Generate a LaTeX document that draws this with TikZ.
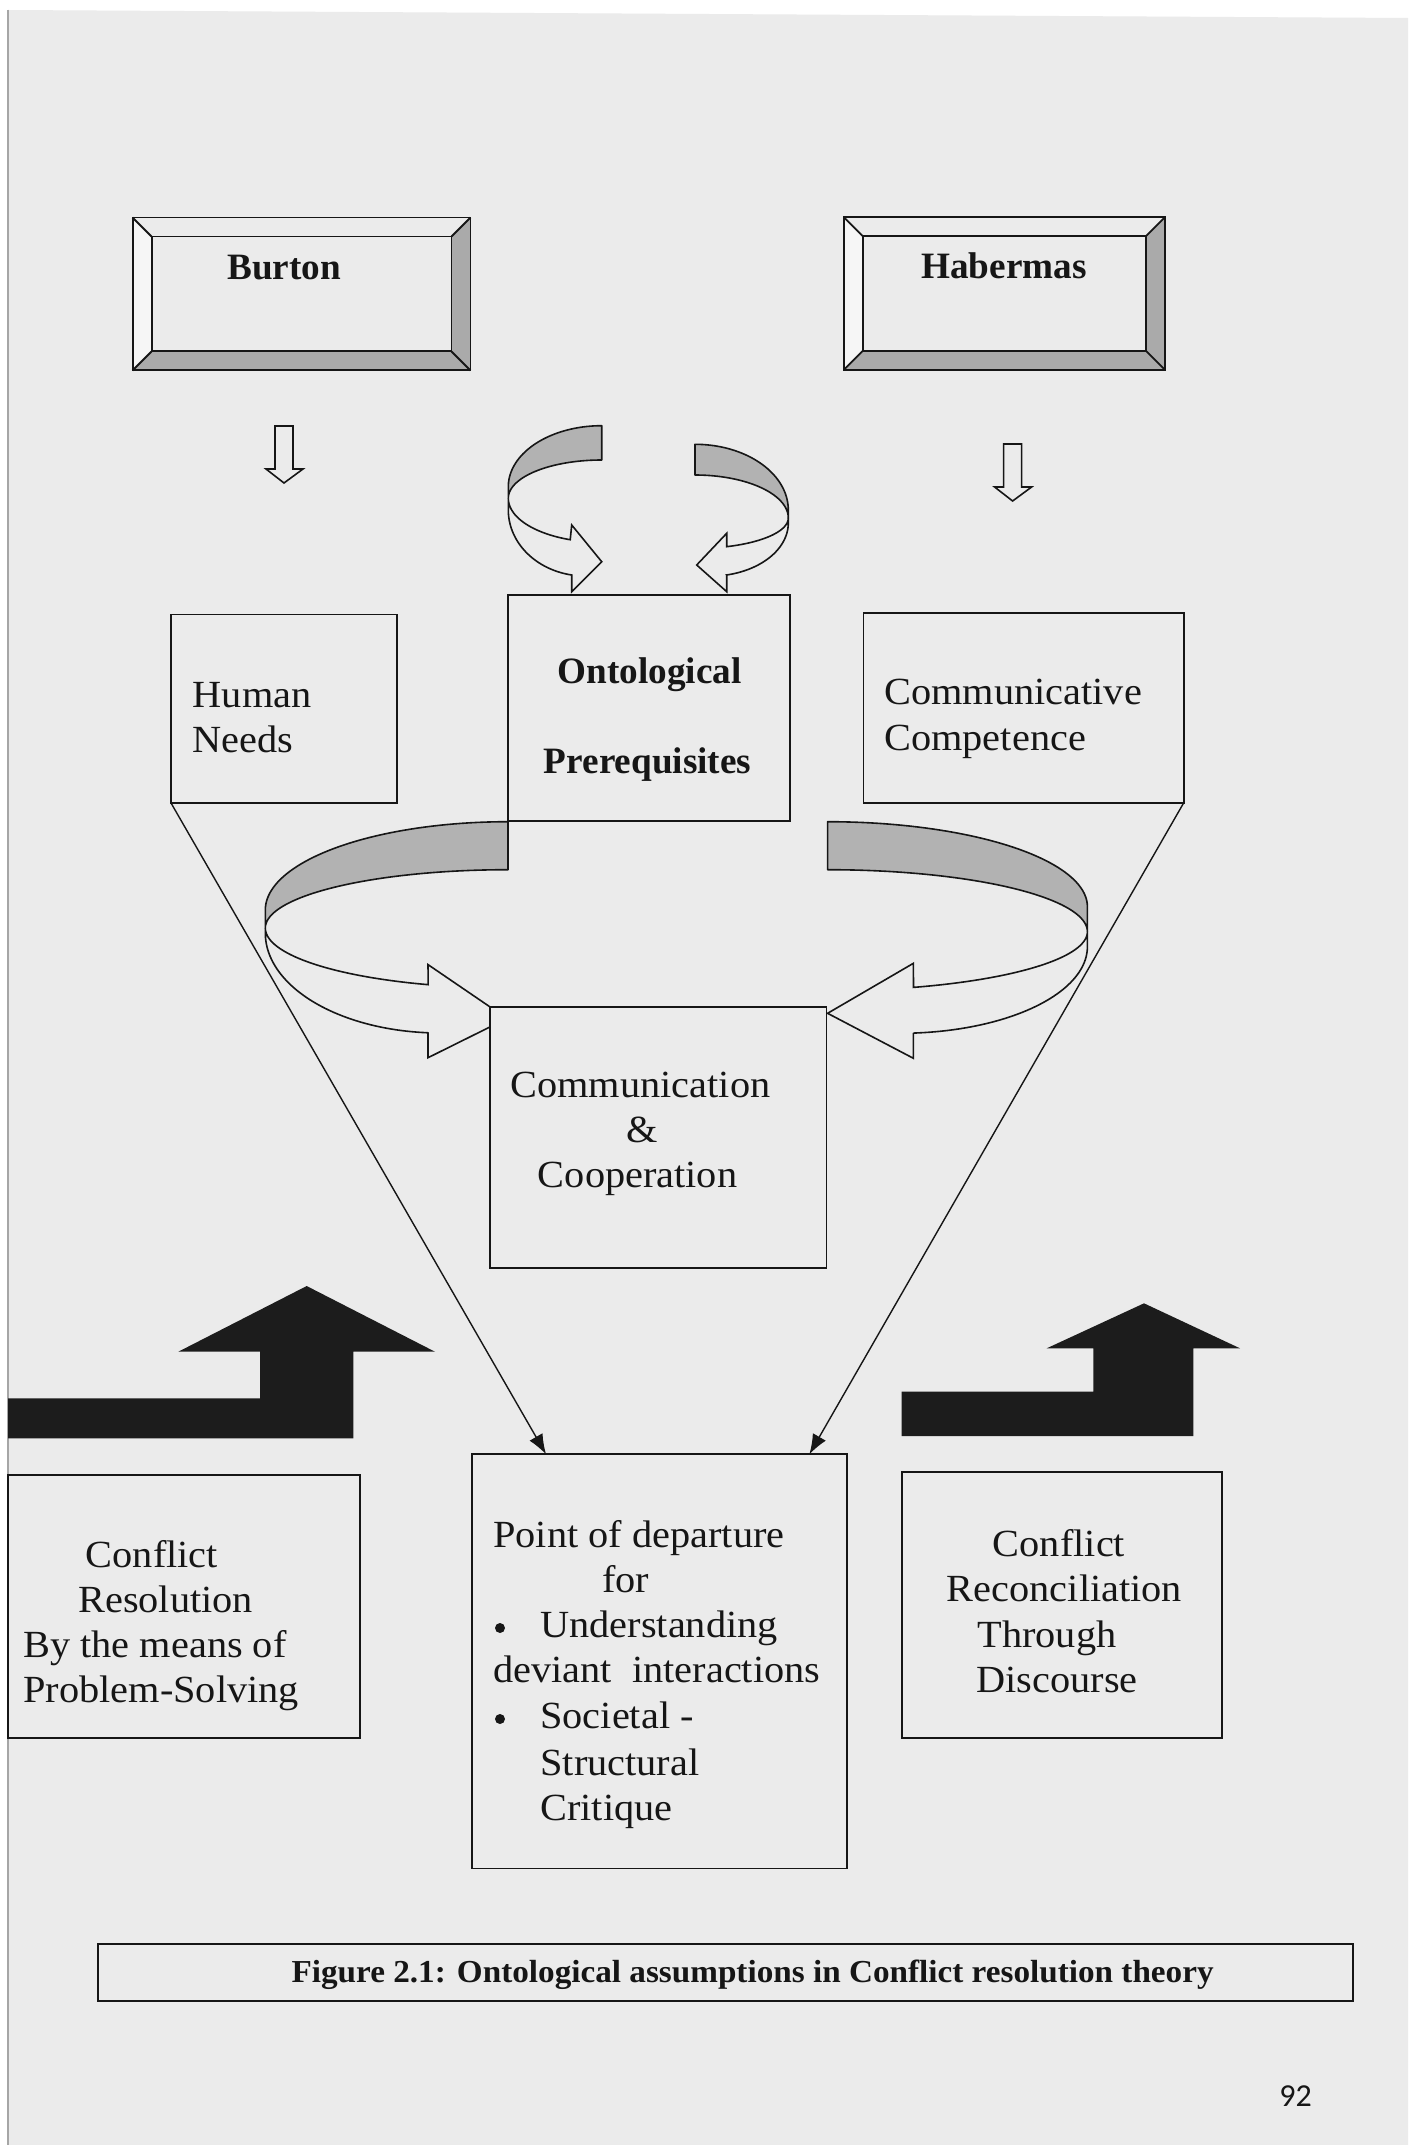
\documentclass[tikz,border=0pt]{standalone}
\usepackage{fontspec}
\usepackage{graphicx}
\usetikzlibrary{arrows.meta}
\newfontfamily\numfont{Carlito}
\newfontfamily\palfont{Liberation Serif}[FakeStretch=1.05]
\newfontfamily\palbfont{Liberation Serif}

\definecolor{paper}{RGB}{235,235,235}
\definecolor{ribbon}{RGB}{178,178,178}
\definecolor{bevdark}{RGB}{170,170,170}
\definecolor{bevlight}{RGB}{246,246,246}
\definecolor{ink}{RGB}{22,22,22}
\definecolor{solid}{RGB}{28,28,28}

\tikzset{
  box/.style={draw=ink, line width=0.9pt, fill=paper, inner sep=0pt, outer sep=0pt},
  txt/.style={inner sep=0pt, text=ink, font=\palfont\fontsize{19.2}{22.5}\selectfont},
  btxt/.style={inner sep=0pt, text=ink, font=\palbfont\bfseries\fontsize{18.6}{22.5}\selectfont},
  bulletdot/.style={circle, fill=ink, inner sep=0pt, minimum size=5pt},
  ribbonback/.style={fill=ribbon, draw=ink, line width=0.8pt, line join=round},
  ribbonfront/.style={fill=paper, draw=ink, line width=0.8pt, line join=miter},
  hollow/.style={fill=paper, draw=ink, line width=0.8pt, line join=miter},
  solidarrow/.style={fill=solid},
  funnel/.style={draw=ink, line width=0.7pt, -{Latex[length=10pt,width=7.5pt]}},
  bevelline/.style={draw=ink, line width=0.9pt}
}

% rectangle node: name, centre x, centre y, width, height (all in px units)
\newcommand\rectnode[5]{\node[box, minimum width={(#4)*0.5pt}, minimum height={(#5)*0.5pt}] (#1) at (#2,#3) {};}

% bevelled frame around an existing node: name, bevel depth
\newcommand\bevelframe[2]{%
  \fill[bevlight] (#1.north west) -- (#1.south west) -- ([shift={(#2,-#2)}]#1.south west) -- ([shift={(#2,#2)}]#1.north west) -- cycle;
  \fill[bevdark] (#1.north east) -- (#1.south east) -- ([shift={(-#2,-#2)}]#1.south east) -- ([shift={(-#2,#2)}]#1.north east) -- cycle;
  \fill[bevdark] (#1.south west) -- (#1.south east) -- ([shift={(-#2,-#2)}]#1.south east) -- ([shift={(#2,-#2)}]#1.south west) -- cycle;
  \draw[bevelline] (#1.north west) rectangle (#1.south east);
  \draw[bevelline] ([shift={(#2,#2)}]#1.north west) rectangle ([shift={(-#2,-#2)}]#1.south east);
  \draw[bevelline] (#1.north west) -- ([shift={(#2,#2)}]#1.north west);
  \draw[bevelline] (#1.north east) -- ([shift={(-#2,#2)}]#1.north east);
  \draw[bevelline] (#1.south east) -- ([shift={(-#2,-#2)}]#1.south east);
  \draw[bevelline] (#1.south west) -- ([shift={(#2,-#2)}]#1.south west);
}

\begin{document}
\begin{tikzpicture}[x=0.5pt,y=-0.5pt]
\useasboundingbox (0,0) rectangle (1408,2145);

% sheet of paper
\fill[white] (0,0) rectangle (1408,2145);
\fill[paper] (8,10) -- (1408,18) -- (1408,2145) -- (8,2145) -- cycle;
\draw[black!35, line width=0.6pt] (8,10) -- (8,2145);

% ---------- author frames ----------
\node[inner sep=0pt, minimum width={337*0.5pt}, minimum height={152*0.5pt}, fill=paper] (burton) at (301.5,294) {};
\bevelframe{burton}{19}
\node[btxt, anchor=base west] (burtonlbl) at (227,280) {Burton};

\node[inner sep=0pt, minimum width={320.2*0.5pt}, minimum height={151.8*0.5pt}, fill=paper] (habermas) at (1004.4,293.5) {};
\bevelframe{habermas}{19}
\node[btxt, anchor=base west] (habermaslbl) at (921,279) {Habermas};

% ---------- small hollow down arrows ----------
\filldraw[hollow] (275,426) -- (293,426) -- (293,469) -- (303,469) -- (284,483) -- (266,469) -- (275,469) -- cycle;
\filldraw[hollow] (1003.6,444) -- (1021.6,444) -- (1021.6,487) -- (1031.6,487) -- (1012.6,501) -- (994.6,487) -- (1003.6,487) -- cycle;

% ---------- small curved ribbon arrows above the centre box ----------
\filldraw[ribbonback] plot[domain=90:180, samples=40, variable=\t] ({601.7+93.4*cos(\t)},{486.7-61*sin(\t)})
  -- plot[domain=180:90, samples=40, variable=\t] ({601.7+93.4*cos(\t)},{498.3-38.3*sin(\t)}) -- cycle;
\filldraw[ribbonfront] plot[domain=180:250.3, samples=40, variable=\t] ({601.7+93.4*cos(\t)},{498.3-44*sin(\t)})
  -- (571.7,525) -- (601.7,561.7) -- (571.7,591.7) -- (571.7,575)
  -- plot[domain=260.0:180, samples=40, variable=\t] ({585+76.7*cos(\t)},{510-66*sin(\t)}) -- cycle;

\filldraw[ribbonback] plot[domain=90:0, samples=40, variable=\t] ({695+93.3*cos(\t)},{510-65.7*sin(\t)})
  -- plot[domain=0:90, samples=40, variable=\t] ({695+93.3*cos(\t)},{518-43*sin(\t)}) -- cycle;
\filldraw[ribbonfront] plot[domain=0:-70.1, samples=40, variable=\t] ({695+93.3*cos(\t)},{518-30.5*sin(\t)})
  -- (726.7,533.3) -- (696.7,565) -- (726.7,591.7) -- (726.7,575)
  -- plot[domain=-77.7:0, samples=40, variable=\t] ({710+78.3*cos(\t)},{523-53.2*sin(\t)}) -- cycle;

% ---------- large curved ribbon arrows ----------
\filldraw[ribbonback] plot[domain=90:180, samples=50, variable=\t] ({508+242.7*cos(\t)},{910-88.3*sin(\t)})
  -- plot[domain=180:90, samples=50, variable=\t] ({508+242.7*cos(\t)},{928-58.3*sin(\t)}) -- cycle;
\filldraw[ribbonfront] plot[domain=180:250.8, samples=50, variable=\t] ({508+242.7*cos(\t)},{928-60*sin(\t)})
  -- (428,964.6) -- (507,1018.5) -- (428,1057.7) -- (428,1033)
  -- plot[domain=265.9:180, samples=50, variable=\t] ({440+174.7*cos(\t)},{933-100*sin(\t)}) -- cycle;

\filldraw[ribbonback] plot[domain=90:0, samples=50, variable=\t] ({827.6+259.8*cos(\t)},{906.7-85*sin(\t)})
  -- plot[domain=0:90, samples=50, variable=\t] ({827.6+259.8*cos(\t)},{931.7-62*sin(\t)}) -- cycle;
\filldraw[ribbonfront] plot[domain=0:-70.7, samples=50, variable=\t] ({827.6+259.8*cos(\t)},{931.7-59*sin(\t)})
  -- (913.4,963.3) -- (827.6,1013.3) -- (913.4,1058.3) -- (913.4,1033)
  -- plot[domain=-85.9:0, samples=50, variable=\t] ({900+187.4*cos(\t)},{946.7-86.6*sin(\t)}) -- cycle;

% ---------- concept boxes ----------
\rectnode{hn}{284.2}{708.8}{226.3}{188.5}
\node[txt, anchor=base west] (hn1) at (192.4,707) {Human};
\node[txt, anchor=base west] (hn2) at (192.4,752) {Needs};

\rectnode{onto}{649}{708}{282}{226}
\node[btxt, anchor=base] (onto1) at (649.6,683) {Ontological};
\node[btxt, anchor=base] (onto2) at (647.6,773) {Prerequisites};

\rectnode{cc}{1023.5}{708}{320.2}{190}
\node[txt, anchor=base west] (cc1) at (884,704) {Communicative};
\node[txt, anchor=base west] (cc2) at (884,750) {Competence};

\rectnode{comm}{658.2}{1137.5}{336.5}{261}
\node[txt, anchor=base] (comm1) at (640.4,1097) {Communication};
\node[txt, anchor=base] (comm2) at (641.7,1142) {\&};
\node[txt, anchor=base] (comm3) at (637.6,1187) {Cooperation};

% ---------- solid black arrows ----------
\fill[solidarrow] (8,1438.3) -- (353.3,1438.3) -- (353.3,1351.7) -- (435,1351.7) -- (306.7,1286)
  -- (178.3,1351.7) -- (260,1351.7) -- (260,1398.3) -- (8,1398.3) -- cycle;
\fill[solidarrow] (901.7,1436) -- (1193.3,1436) -- (1193.3,1348.3) -- (1240,1348.3) -- (1144,1303.3)
  -- (1046.7,1348.3) -- (1093.3,1348.3) -- (1093.3,1391.7) -- (901.7,1391.7) -- cycle;

% ---------- bottom boxes ----------
\rectnode{pod}{659.4}{1661.4}{374.7}{414.2}
\node[txt, anchor=base west] (pod1) at (493,1547) {Point of departure};
\node[txt, anchor=base west] (pod2) at (602,1592) {for};
\node[bulletdot] (pod3b) at (500,1628) {};
\node[txt, anchor=base west] (pod3) at (540,1637) {Understanding};
\node[txt, anchor=base west] (pod4) at (493,1682) {deviant\ \ interactions};
\node[bulletdot] (pod5b) at (500,1719) {};
\node[txt, anchor=base west] (pod5) at (540,1728) {Societal -};
\node[txt, anchor=base west] (pod6) at (540,1775) {Structural};
\node[txt, anchor=base west] (pod7) at (540,1820) {Critique};

\rectnode{cres}{184}{1606.3}{352}{262.6}
\node[txt, anchor=base] (cres1) at (152,1567) {Conflict};
\node[txt, anchor=base] (cres2) at (165.6,1612) {Resolution};
\node[txt, anchor=base west] (cres3) at (23,1657) {By the means of};
\node[txt, anchor=base west] (cres4) at (23,1702) {Problem-Solving};

\rectnode{crec}{1061.9}{1604.8}{320.3}{265.6}
\node[txt, anchor=base] (crec1) at (1059,1556) {Conflict};
\node[txt, anchor=base] (crec2) at (1064.5,1601) {Reconciliation};
\node[txt, anchor=base] (crec3) at (1047,1647) {Through};
\node[txt, anchor=base] (crec4) at (1057,1692) {Discourse};

% ---------- funnel connectors ----------
\draw[funnel] (hn.south west) -- ([xshift=37pt]pod.north west);
\draw[funnel] (cc.south east) -- ([xshift=-18.7pt]pod.north east);

% ---------- caption ----------
\node[box, line width=1.3pt, minimum width={1254.8*0.5pt}, minimum height={57*0.5pt}] (capbox) at (725.4,1972.5) {};
\node[btxt, anchor=base, font=\palbfont\bfseries\fontsize{16}{18}\selectfont] (caption) at (752.6,1982)
  {\resizebox{461pt}{\height}{Figure 2.1: Ontological assumptions in Conflict resolution theory}};

% page number
\node[inner sep=0pt, anchor=base west, text=ink, font=\numfont\fontsize{16}{19}\selectfont] (pgnum) at (1279,2106) {92};
\end{tikzpicture}
\end{document}
